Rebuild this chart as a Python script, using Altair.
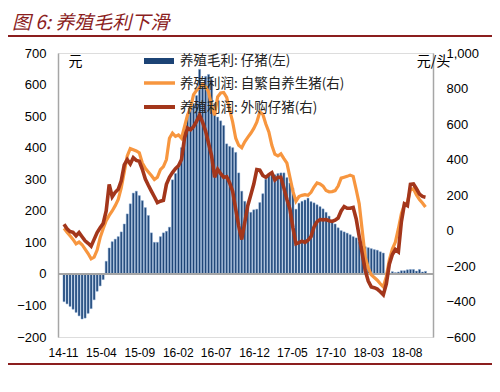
import altair as alt
import pandas as pd

# ---- data ----
start_date = "2014-11-05"
step = "12D"

margin_piglet = [  # 养殖毛利: 仔猪 (左), 元
    -88, -95, -103, -112, -122, -133, -143, -140, -125, -110,
    -82, -55, -38, -18, 40, 82, 102, 110, 118, 133,
    158, 190, 222, 256, 262, 248, 232, 210, 185, 130,
    100, 100, 118, 130, 135, 148, 298, 318, 338, 400,
    455, 500, 522, 540, 565, 648, 602, 626, 632, 615,
    540, 497, 485, 470, 412, 404, 400, 385, 320, 262,
    230, 210, 195, 203, 205, 226, 254, 300, 312, 314,
    314, 318, 320, 320, 305, 288, 272, 205, 224, 230,
    234, 240, 229, 225, 219, 213, 206, 195, 183, 170,
    158, 146, 137, 133, 129, 124, 118, 114, 102, 88,
    86, 83, 80, 77, 75, 70, 66, 3, 2, 7,
    4, 6, 10, 10, 13, 14, 14, 9, 14, 6,
    8,
]

profit_self = [  # 养殖利润: 自繁自养生猪 (右), 元/头
    12, -10, -30, -50, -75, -65, -80, -105, -130, -160,
    -150, -110, -40, 10, 55, 85, 110, 140, 175, 240,
    330, 420, 462, 455, 448, 438, 380, 350, 330, 310,
    287, 300, 343, 360, 400, 520, 548, 530, 538, 520,
    585, 650, 690, 765, 790, 805, 825, 810, 780, 700,
    650, 753, 775, 778, 750, 680, 610, 520, 480, 466,
    500, 525, 548, 575, 610, 668, 655, 600, 555, 480,
    430, 420, 432, 405, 380, 300, 220, 165, 191, 198,
    202, 198, 215, 245, 268, 262, 250, 225, 218, 219,
    225, 250, 295, 300, 305, 312, 305, 230, 150, 0,
    -150, -210, -250, -265, -280, -300, -318, -260, -165, -105,
    -65, 10, 95, 145, 160, 230, 235, 200, 175, 155,
    132,
]

profit_bought = [  # 养殖利润: 外购仔猪 (右), 元/头
    35, 10, -6, -10, -30, -12, -35, -58, -72, -88,
    -50, -12, 15, 40, 110, 260, 190, 215, 232, 280,
    370, 399, 375, 410, 395, 390, 345, 290, 255, 222,
    190, 157, 165, 170, 260, 300, 326, 348, 365, 400,
    520, 578, 568, 585, 615, 650, 610, 560, 490, 420,
    300, 345, 320, 300, 303, 268, 220, 120, 25, -51,
    45, 140, 200, 262, 343, 340, 310, 300, 315, 326,
    285, 300, 300, 240, 175, 120, 15, -75, -68, -60,
    -67, -55, -34, 20, 50, 62, 60, 62, 55, 51,
    58, 70, 110, 135, 125, 125, 130, 65, -34, -130,
    -225, -285, -318, -322, -330, -345, -362, -300, -190, -135,
    -107, -120, 50, 150, 140, 260, 262, 235, 205, 192,
    188,
]

legend_labels = ["养殖毛利: 仔猪(左)", "养殖利润: 自繁自养生猪(右)", "养殖利润: 外购仔猪(右)"]
title_text = "图 6:  养殖毛利下滑"
tick_months = [(2014, 11), (2015, 4), (2015, 9), (2016, 2), (2016, 7),
               (2016, 12), (2017, 5), (2017, 10), (2018, 3), (2018, 8)]
left_ticks = [-200, -100, 0, 100, 200, 300, 400, 500, 600, 700]
right_ticks = [-600, -400, -200, 0, 200, 400, 600, 800, 1000]

dates = pd.date_range(start_date, periods=len(margin_piglet), freq=step)
df = pd.DataFrame({
    "date": dates,
    "margin": margin_piglet,
    "self": profit_self,
    "bought": profit_bought,
})

# ---- style ----
NUM_FONT = "Liberation Sans"
CJK_FONT = "Noto Sans CJK SC"
BAR_COLOR = "#1C4375"
ORANGE = "#F7963F"
RED = "#A3361B"
DARK_RED = "#8B1E1E"
AXIS_GREY = "#A6A6A6"

x_scale = alt.Scale(domain=[alt.DateTime(year=2014, month=11, date=1),
                            alt.DateTime(year=2018, month=10, date=25)])
x_axis = alt.Axis(
    values=[alt.DateTime(year=y, month=m, date=1) for y, m in tick_months],
    format="%y-%m", domain=False, ticks=False, tickSize=0, grid=False,
    labelFont=NUM_FONT, labelFontSize=12, labelColor="#000000",
    labelPadding=10, labelFlush=False, labelOverlap=False, title=None,
)
x_enc = alt.X("date:T", scale=x_scale, axis=x_axis, title=None)

left_axis = alt.Axis(
    orient="left", values=left_ticks, format="d", grid=False, ticks=False, tickSize=0,
    domainColor=AXIS_GREY, domainWidth=1.5, labelOverlap=False, labelFlush=False,
    labelFont=NUM_FONT, labelFontSize=13, labelColor="#000000", labelPadding=12,
    title="元", titleAngle=0, titleX=17, titleY=8, titleAlign="center",
    titleBaseline="middle", titleFont=CJK_FONT, titleFontSize=14,
    titleFontWeight="normal", titleColor="#000000",
)
right_axis = alt.Axis(
    orient="right", values=right_ticks, format=",d", grid=False, ticks=False,
    tickSize=0, domainColor=AXIS_GREY, domainWidth=1.5, labelOverlap=False,
    labelFlush=False,
    labelFont=NUM_FONT, labelFontSize=13, labelColor="#000000", labelPadding=13,
    title="元/头", titleAngle=0, titleX=0, titleY=8, titleAlign="center",
    titleBaseline="middle", titleFont=CJK_FONT, titleFontSize=14,
    titleFontWeight="normal", titleColor="#000000",
)

base = alt.Chart(df)

l_scale = alt.Scale(domain=[-200, 700], nice=False)
bars = base.mark_bar(width=2, color=BAR_COLOR, stroke="#7FA3CF", strokeWidth=0.5).encode(
    x=x_enc,
    y=alt.Y("margin:Q", scale=l_scale, axis=left_axis),
)
zero = base.mark_rule(color=AXIS_GREY, strokeWidth=1).encode(
    y=alt.YDatum(0, scale=l_scale, axis=left_axis),
)
left = alt.layer(bars, zero)

r_scale = alt.Scale(domain=[-600, 1000], nice=False)
orange = base.mark_line(color=ORANGE, strokeWidth=3.2).encode(
    x=x_enc, y=alt.Y("self:Q", scale=r_scale, axis=right_axis),
)
red = base.mark_line(color=RED, strokeWidth=3.6).encode(
    x=x_enc, y=alt.Y("bought:Q", scale=r_scale, axis=right_axis),
)
right = alt.layer(orange, red)

one = alt.Data(values=[{"k": 1}])

# legend (manual)
leg_bar = alt.Chart(one).mark_rect(color=BAR_COLOR).encode(
    x=alt.value(86), x2=alt.value(116), y=alt.value(5), y2=alt.value(11))
leg_or = alt.Chart(one).mark_rule(color=ORANGE, strokeWidth=3.5).encode(
    x=alt.value(86), x2=alt.value(117), y=alt.value(30))
leg_rd = alt.Chart(one).mark_rule(color=RED, strokeWidth=4).encode(
    x=alt.value(86), x2=alt.value(117), y=alt.value(54))
leg_texts = [
    alt.Chart(one).mark_text(text=lab, align="left", baseline="middle",
                             font=CJK_FONT, fontSize=13.5, color="#222222").encode(
        x=alt.value(122), y=alt.value(yy))
    for lab, yy in zip(legend_labels, [8, 31, 55])
]

# title and rules
title = alt.Chart(one).mark_text(text=title_text, align="left", baseline="middle",
                                 font=CJK_FONT, fontSize=19, fontStyle="italic",
                                 color=DARK_RED).encode(
    x=alt.value(-46), y=alt.value(-30))
top_line = alt.Chart(one).mark_rule(color=DARK_RED, strokeWidth=2).encode(
    x=alt.value(-55), x2=alt.value(440), y=alt.value(-17))
bottom_line = alt.Chart(one).mark_rule(color=DARK_RED, strokeWidth=2).encode(
    x=alt.value(-55), x2=alt.value(440), y=alt.value(311))

chart = alt.layer(
    left, right, leg_bar, leg_or, leg_rd, *leg_texts, title, top_line, bottom_line
).resolve_scale(y="independent").properties(
    width=375, height=284,
    autosize=alt.AutoSizeParams(type="none"),
    padding={"left": 50, "top": 45, "right": 59, "bottom": 47},
).configure_view(stroke=None).configure(background="white")

chart.save("out.html", embed_options={"renderer": "svg", "actions": False})
